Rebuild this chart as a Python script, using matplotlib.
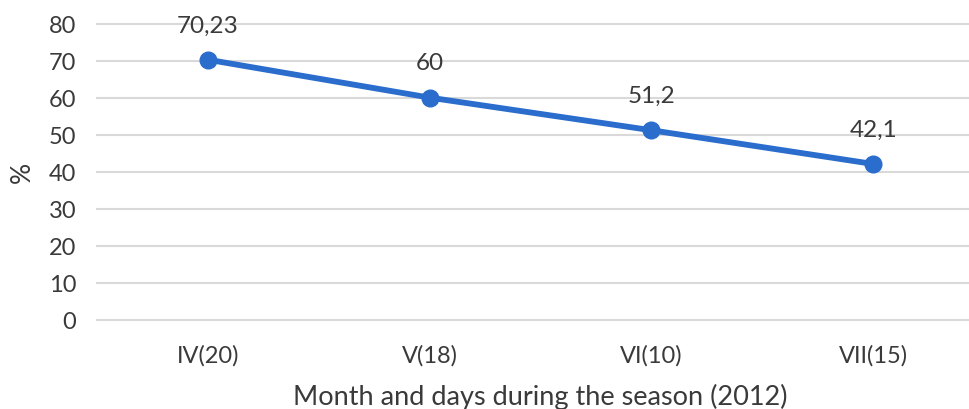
import matplotlib
matplotlib.use("Agg")
import matplotlib.pyplot as plt

categories = ['IV(20)', 'V(18)', 'VI(10)', 'VII(15)']
values = [70.23, 60, 51.2, 42.1]
value_labels = ['70,23', '60', '51,2', '42,1']
y_ticks = [0, 10, 20, 30, 40, 50, 60, 70, 80]

plt.rcParams['font.family'] = ['Lato', 'DejaVu Sans']
text_color = '#3a3a3a'
line_color = '#2b6dcc'

fig = plt.figure(figsize=(9.69, 4.10), dpi=100)
ax = fig.add_axes([97 / 969, 89 / 410, 887 / 969, 296.5 / 410])

x = list(range(len(categories)))
ax.plot(x, values, color=line_color, lw=4.2, marker='o', markersize=12,
        solid_capstyle='round', zorder=3)
for xi, v, lab in zip(x, values, value_labels):
    ax.annotate(lab, (xi, v), xytext=(0, 25), textcoords='offset points',
                ha='center', va='center', fontsize=17.5, color=text_color)

ax.set_xlim(-0.5, 3.5)
ax.set_ylim(0, 80)
ax.set_yticks(y_ticks)
ax.set_xticks(x)
ax.set_xticklabels(categories)
ax.grid(axis='y', color='#d9d9d9', lw=1.5)
for gl in ax.get_ygridlines():
    gl.set_clip_on(False)
for s in ax.spines.values():
    s.set_visible(False)
ax.tick_params(axis='both', length=0, labelsize=17, colors=text_color)
ax.tick_params(axis='y', pad=15)
ax.tick_params(axis='x', pad=17)
ax.set_xlabel('Month and days during the season (2012)', fontsize=19.5,
              color=text_color, labelpad=13)
ax.set_ylabel('%', fontsize=19, color=text_color, labelpad=10)
ax.set_axisbelow(True)

fig.savefig('out.png', dpi=100)
